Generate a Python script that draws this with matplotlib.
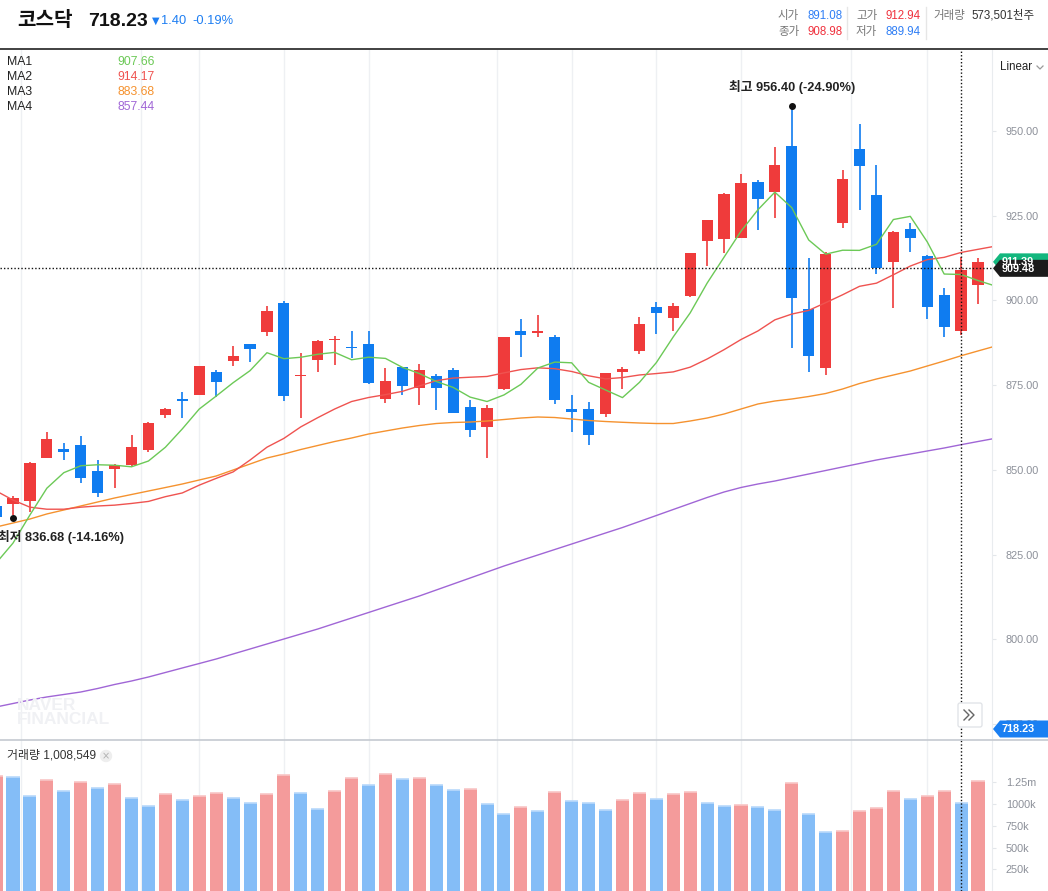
import matplotlib
matplotlib.use("Agg")
import matplotlib.pyplot as plt
from matplotlib.patches import Polygon, FancyBboxPatch, Circle
from matplotlib.lines import Line2D
from matplotlib.transforms import Affine2D
import numpy as np

plt.rcParams['font.family'] = ['Liberation Sans', 'Noto Sans CJK KR', 'DejaVu Sans']

W, H = 1048, 891

# ---- data ----
opens = [839.3, 839.8, 840.9, 853.6, 856.2, 857.3, 849.7, 850.2, 851.4, 855.9,
         866.3, 870.8, 872.2, 878.9, 882.2, 887.1, 890.8, 899.3, 877.7, 882.5,
         888.3, 886.4, 887.1, 870.8, 880.3, 874.3, 877.6, 879.5, 868.6, 862.7,
         874.0, 891.0, 890.5, 889.2, 868.0, 868.0, 866.6, 879.0, 885.2, 898.1,
         894.9, 901.3, 917.6, 918.2, 918.5, 935.0, 932.1, 945.6, 897.5, 880.2,
         922.9, 944.7, 931.1, 911.4, 921.2, 913.2, 901.7, 891.08, 904.6]
highs = [839.6, 842.3, 852.4, 861.2, 858.0, 860.0, 852.9, 851.6, 860.3, 864.0,
         868.3, 872.9, 880.8, 879.5, 886.6, 887.2, 898.4, 899.8, 884.4, 888.4,
         889.5, 891.0, 891.0, 880.1, 880.4, 881.2, 878.2, 880.0, 870.6, 869.1,
         889.3, 894.5, 895.7, 889.8, 872.1, 870.0, 878.7, 880.3, 895.1, 899.5,
         899.2, 914.1, 923.8, 931.6, 937.3, 935.5, 945.3, 956.40, 912.6, 914.4,
         938.5, 952.2, 940.0, 920.6, 922.9, 913.3, 903.8, 912.94, 912.6]
lows = [835.5, 836.68, 837.7, 853.6, 852.9, 846.0, 842.1, 844.6, 850.9, 855.4,
        865.2, 865.2, 872.1, 871.6, 880.7, 881.9, 889.6, 870.4, 865.4, 879.0,
        881.0, 883.0, 875.4, 869.8, 872.2, 869.2, 867.8, 866.9, 859.8, 853.6,
        873.6, 883.4, 889.3, 869.5, 861.3, 857.4, 865.7, 874.0, 884.3, 890.2,
        891.1, 901.0, 910.3, 914.1, 918.4, 920.9, 924.4, 886.1, 879.0, 878.1,
        921.5, 926.8, 907.9, 897.9, 914.4, 894.6, 889.3, 889.94, 899.0]
closes = [836.0, 841.8, 852.1, 859.1, 855.4, 847.7, 843.3, 851.4, 856.8, 863.9,
          868.0, 870.4, 880.7, 875.9, 883.6, 885.8, 896.9, 871.9, 878.0, 888.0,
          888.6, 886.0, 875.7, 876.2, 874.8, 879.5, 874.3, 866.9, 861.9, 868.3,
          889.2, 889.9, 891.0, 870.7, 867.2, 860.4, 878.6, 879.8, 893.1, 896.4,
          898.4, 914.0, 923.7, 931.4, 934.7, 930.0, 940.0, 900.8, 883.7, 913.8,
          935.8, 939.8, 909.7, 920.3, 918.5, 898.2, 892.3, 908.98, 911.39]

# volume in thousands, and the colour used for each volume bar
volume = [1324.9, 1310.0, 1094.5, 1278.8, 1152.1, 1255.8, 1186.7, 1236.2, 1071.5, 979.3,
          1117.5, 1048.4, 1094.5, 1129.1, 1071.5, 1013.8, 1117.5, 1336.4, 1125.6, 941.3,
          1148.6, 1298.4, 1217.8, 1344.5, 1286.9, 1298.4, 1217.8, 1160.2, 1171.7, 998.9,
          883.7, 964.3, 918.2, 1137.1, 1033.4, 1010.4, 929.7, 1044.9, 1125.6, 1056.5,
          1117.5, 1140.6, 1013.8, 979.3, 990.8, 967.8, 933.2, 1244.3, 887.1, 679.7,
          691.3, 921.7, 956.2, 1152.1, 1059.9, 1094.5, 1152.1, 1008.549, 1267.3]
vol_dir = "rbbrbrbrbbrbrrbbrrbbrrbrbrbbrbbrbrbbbrrbrrbbrbbrbbrrrrbrrbr"

# moving averages run one session past the last visible candle (clipped at the edge)
ma1 = [822.5, 828.4, 836.7, 844.6, 849.18, 851.22, 851.52, 851.38, 850.92, 852.62,
       856.68, 862.10, 867.96, 871.78, 875.72, 879.28, 884.58, 882.82, 883.24, 884.12,
       884.68, 882.50, 883.26, 882.90, 880.26, 878.44, 876.10, 874.34, 871.48, 870.18,
       872.12, 875.24, 880.06, 881.82, 881.60, 875.84, 873.58, 871.34, 875.82, 881.66,
       889.26, 896.34, 905.12, 912.78, 920.44, 926.76, 931.96, 927.38, 917.84, 913.66,
       914.82, 914.78, 916.56, 923.88, 924.82, 917.30, 907.80, 907.66, 905.88, 904.3]
ma2 = [843.8, 841.1, 839.0, 838.4, 838.4, 839.0, 839.35, 839.6, 840.1, 840.7,
       842.1, 843.2, 845.5, 847.5, 849.4, 852.9, 856.7, 859.3, 862.7, 865.41,
       867.97, 870.18, 871.36, 872.21, 873.18, 874.77, 876.32, 877.10, 877.35, 877.57,
       878.63, 879.61, 880.12, 879.86, 879.04, 877.77, 876.86, 877.25, 878.01, 878.43,
       878.92, 880.32, 882.72, 885.48, 888.47, 891.00, 894.28, 895.98, 897.07, 899.34,
       901.67, 904.17, 905.10, 907.58, 910.15, 912.04, 912.72, 914.17, 915.09, 916.0]
ma3 = [833.15, 834.33, 835.51, 837.00, 838.17, 839.35, 840.53, 841.71, 842.74, 843.77,
       844.80, 845.84, 847.02, 848.20, 849.97, 851.74, 853.51, 854.69, 856.02, 857.20,
       858.38, 859.41, 860.59, 861.48, 862.36, 863.10, 863.69, 863.99, 864.13, 864.43,
       864.87, 865.31, 865.61, 865.46, 865.02, 864.58, 864.28, 864.05, 863.84, 863.69,
       863.69, 864.43, 865.31, 866.49, 867.97, 869.45, 870.33, 870.92, 871.66, 872.54,
       873.87, 875.49, 876.82, 878.00, 879.18, 880.66, 882.13, 883.68, 885.10, 886.5]
ma4 = [780.04, 781.07, 782.10, 783.00, 783.73, 784.46, 785.50, 786.68, 787.71, 788.89,
       790.22, 791.55, 792.87, 794.20, 795.68, 797.15, 798.63, 800.10, 801.58, 803.05,
       804.68, 806.30, 807.92, 809.55, 811.17, 812.79, 814.56, 816.33, 818.10, 819.87,
       821.64, 823.27, 824.89, 826.51, 828.13, 829.76, 831.38, 833.00, 834.77, 836.54,
       838.32, 840.09, 841.86, 843.48, 844.81, 845.84, 846.72, 847.76, 848.79, 849.82,
       850.86, 851.89, 852.92, 853.81, 854.69, 855.58, 856.46, 857.44, 858.38, 859.3]

ma_names = ["MA1", "MA2", "MA3", "MA4"]
ma_colors = ["#6cc957", "#ef5350", "#f5922f", "#a066d6"]
price_ticks = [775, 800, 825, 850, 875, 900, 925, 950]
vol_ticks = [250, 500, 750, 1000, 1250]
vol_tick_labels = ["250k", "500k", "750k", "1000k", "1.25m"]
grid_idx = [1.5, 8.55, 12, 17, 22, 29.6, 34, 39, 44, 50.5, 55]

hover_idx = 57
cross_price = 909.48
hi_idx, lo_idx = 47, 1

RED = "#ef3b3b"
BLUE = "#0f7cf0"
VRED = "#f49b9b"
VBLUE = "#84bdf7"

# ---- figure ----
fig = plt.figure(figsize=(W / 100, H / 100), dpi=100)
px = Affine2D().scale(1 / W, -1 / H).translate(0, 1) + fig.transFigure

x = np.arange(len(opens))
xm = np.arange(len(ma1))
xlim = (1 - 13 / 16.93, 1 + 979 / 16.93)

ax = fig.add_axes([0, 151 / H, 992 / W, 691 / H])
vax = fig.add_axes([0, 0, 992 / W, 151 / H])

# candles
cols = [RED if c >= o else BLUE for o, c in zip(opens, closes)]
ax.vlines(x, lows, highs, colors=cols, linewidth=1.2, zorder=3)
bottoms = [min(o, c) for o, c in zip(opens, closes)]
heights = [max(abs(c - o), 0.35) for o, c in zip(opens, closes)]
ax.bar(x, heights, bottom=bottoms, width=0.66, color=cols, linewidth=0, zorder=4)

for vals, c in zip([ma4, ma3, ma2, ma1], ma_colors[::-1]):
    ax.plot(xm, vals, color=c, linewidth=1.0, zorder=5)

ax.set_xlim(*xlim)
ax.set_ylim(770.3, 974.2)
for g in grid_idx:
    ax.axvline(g, color="#eef0f3", linewidth=1, zorder=0)
    vax.axvline(g, color="#eef0f3", linewidth=1, zorder=0)

ax.yaxis.tick_right()
ax.set_yticks(price_ticks)
ax.set_yticklabels([f"{v:.2f}" for v in price_ticks])
ax.tick_params(axis="y", length=3, width=0.8, color="#e3e6ea", pad=7,
               labelsize=7.8, labelcolor="#8c9099")
ax.set_xticks([])
for s in ["top", "left", "bottom"]:
    ax.spines[s].set_visible(False)
ax.spines["right"].set_color("#e9ecef")

# crosshair
ax.axhline(cross_price, color="#111111", linewidth=1, linestyle=(0, (1, 1.5)), zorder=6)
ax.axvline(hover_idx, color="#111111", linewidth=1, linestyle=(0, (1, 1.5)), zorder=6)

# high / low markers
ax.plot([hi_idx], [highs[hi_idx] + 1.0], "o", color="#111111", markersize=4, zorder=7)
ax.text(hi_idx, highs[hi_idx] + 4.5, f"최고 {highs[hi_idx]:.2f} (-24.90%)", ha="center",
        va="bottom", fontsize=9.2, fontweight="bold", color="#222222", zorder=7)
ax.plot([lo_idx], [lows[lo_idx] - 1.0], "o", color="#111111", markersize=4, zorder=7)
ax.text(0.12, lows[lo_idx] - 4.5, f"최저 {lows[lo_idx]:.2f} (-14.16%)", ha="left",
        va="top", fontsize=9.2, fontweight="bold", color="#222222", zorder=7)

# volume
vcols = [VRED if d == "r" else VBLUE for d in vol_dir]
vtop = ["#f8c6c6" if d == "r" else "#b9d9fb" for d in vol_dir]
vax.bar(x, volume, width=0.77, color=vcols, linewidth=0, zorder=2)
vax.hlines(volume, x - 0.385, x + 0.385, colors=vtop, linewidth=1.2, zorder=3)
vax.axvline(hover_idx, color="#111111", linewidth=1, linestyle=(0, (1, 1.5)), zorder=6)
vax.set_xlim(*xlim)
vax.set_ylim(0, 1739.6)
vax.yaxis.tick_right()
vax.set_yticks(vol_ticks)
vax.set_yticklabels(vol_tick_labels)
vax.tick_params(axis="y", length=3, width=0.8, color="#e3e6ea", pad=7,
                labelsize=7.8, labelcolor="#8c9099")
vax.set_xticks([])
for s in ["top", "left", "bottom"]:
    vax.spines[s].set_visible(False)
vax.spines["right"].set_color("#e9ecef")

# ---- header ----
fig.add_artist(Line2D([0, W], [48.5, 48.5], transform=px, color="#333333", linewidth=1.3))
fig.add_artist(Line2D([0, W], [740, 740], transform=px, color="#c5cad1", linewidth=1.2))

fig.text(17, 20, "코스닥", transform=px, fontsize=14.5, fontweight="bold", va="center", color="#111111")
fig.text(88, 21, "718.23", transform=px, fontsize=14, fontweight="bold", va="center", color="#111111")
fig.text(152, 21, "▼", transform=px, fontsize=7, va="center", color="#1e7ef2",
         family=["DejaVu Sans"])
fig.text(161, 21, "1.40", transform=px, fontsize=9.3, va="center", color="#1e7ef2")
fig.text(192, 21, "-0.19%", transform=px, fontsize=9.3, va="center", color="#1e7ef2")

lab = dict(transform=px, fontsize=8.3, va="center")
fig.text(778, 16, "시가", color="#777777", **lab)
fig.text(808, 16, "891.08", color="#2f7ef5", **lab)
fig.text(778, 32, "종가", color="#777777", **lab)
fig.text(808, 32, "908.98", color="#f0313d", **lab)
fig.text(856, 16, "고가", color="#777777", **lab)
fig.text(886, 16, "912.94", color="#f0313d", **lab)
fig.text(856, 32, "저가", color="#777777", **lab)
fig.text(886, 32, "889.94", color="#2f7ef5", **lab)
fig.text(933, 16, "거래량", color="#777777", **lab)
fig.text(971, 16, "573,501천주", color="#333333", **lab)
for sx in [846.5, 925.5]:
    fig.add_artist(Line2D([sx, sx], [7, 39], transform=px, color="#e6e6e6", linewidth=1))

# MA legend
for k, (nm, c) in enumerate(zip(ma_names, ma_colors)):
    vals = [ma1, ma2, ma3, ma4][k]
    fig.text(7, 62 + 15 * k, nm, transform=px, fontsize=8.8, va="center", color="#222222")
    fig.text(117, 62 + 15 * k, f"{vals[hover_idx]:.2f}", transform=px, fontsize=8.8,
             va="center", color=c)

# Linear selector
fig.text(1000, 67, "Linear", transform=px, fontsize=8.3, va="center", color="#222222")
fig.add_artist(Line2D([1037, 1040, 1043], [66, 69, 66], transform=px, color="#999999", linewidth=0.9))

# volume label
fig.text(7, 756, f"거래량 {volume[hover_idx] * 1000:,.0f}", transform=px, fontsize=8.6,
         va="center", color="#333333")
fig.add_artist(Circle((106, 756), 5.5, transform=px, color="#eeeeee"))
fig.text(106, 756, "×", transform=px, fontsize=7, ha="center", va="center", color="#b0b0b0",
         family=["DejaVu Sans"])

# watermark
fig.text(17, 705, "NAVER", transform=px, fontsize=12.5, fontweight="bold", va="center", color="#f0f1f4")
fig.text(17, 719, "FINANCIAL", transform=px, fontsize=12.5, fontweight="bold", va="center", color="#f0f1f4")

# scroll button
fig.add_artist(FancyBboxPatch((958, 703), 24, 24, boxstyle="round,pad=0,rounding_size=2",
                              transform=px, facecolor="white", edgecolor="#dfe2e6", linewidth=0.9))
fig.add_artist(Line2D([964, 969, 964], [710, 715, 720], transform=px, color="#666666", linewidth=1))
fig.add_artist(Line2D([969, 974, 969], [710, 715, 720], transform=px, color="#666666", linewidth=1))


# price tags on the right
def tag(yc, text, face, txtcol="white"):
    pts = [(993, yc), (1000, yc - 8.5), (W, yc - 8.5), (W, yc + 8.5), (1000, yc + 8.5)]
    fig.add_artist(Polygon(pts, closed=True, transform=px, facecolor=face, edgecolor="none"))
    fig.text(1002, yc + 0.5, text, transform=px, fontsize=7.8, fontweight="bold",
             va="center", color=txtcol)


def price_y(v):
    return 49 + (974.2 - v) / (974.2 - 770.3) * 691


tag(price_y(closes[-1]), f"{closes[-1]:.2f}", "#13b77e")
tag(price_y(cross_price), f"{cross_price:.2f}", "#1b1b1b")
tag(729, "718.23", "#1a7ff2")

fig.savefig("out.png", dpi=100)
